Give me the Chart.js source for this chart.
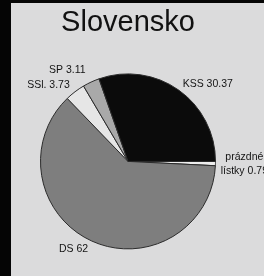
<!DOCTYPE html>
<html>
<head>
<meta charset="utf-8">
<script src="https://cdn.jsdelivr.net/npm/chart.js@4"></script>
<style>
  html, body { margin: 0; padding: 0; background: #050505; width: 264px; height: 276px; overflow: hidden; }
  #sheet { position: absolute; left: 11px; top: 3px; width: 253px; height: 273px; background: #dbdbdc; }
</style>
</head>
<body>
<div id="sheet"><canvas id="pieChart" width="253" height="273"></canvas></div>
<script>
// data (clockwise from 3 o'clock)
const partyNames = ['prázdné\nlístky', 'DS', 'SSl.', 'SP', 'KSS'];
const voteShare = [0.79, 62, 3.73, 3.11, 30.37];

// slice colours
const sliceColors = ['#eeeeee', '#7e7e7e', '#e6e6e6', '#a9a9a9', '#0b0b0b'];
// label placement: distance from centre (x radius) and alignment
const labelDist = [1.33, 1.1, 1.1, 1.15, 1.08];
const labelAlign = ['center', 'right', 'right', 'right', 'left'];

// draws "name value" next to each slice
const sliceLabels = {
    id: 'sliceLabels',
    afterDatasetsDraw(chart) {
        const ctx = chart.ctx;
        const arcs = chart.getDatasetMeta(0).data;
        ctx.save();
        ctx.font = '10.5px "Liberation Sans", Arial, sans-serif';
        ctx.fillStyle = '#141414';
        ctx.textBaseline = 'middle';
        arcs.forEach((arc, i) => {
            const p = arc.getProps(['x', 'y', 'startAngle', 'endAngle', 'outerRadius'], true);
            const mid = (p.startAngle + p.endAngle) / 2;
            const r = p.outerRadius * labelDist[i];
            const x = p.x + Math.cos(mid) * r;
            const y = p.y + Math.sin(mid) * r;
            const lines = (partyNames[i] + ' ' + voteShare[i]).split('\n');
            ctx.textAlign = labelAlign[i];
            lines.forEach((line, j) => {
                ctx.fillText(line, x, y + (j - (lines.length - 1) / 2) * 14);
            });
        });
        ctx.restore();
    }
};

new Chart(document.getElementById('pieChart'), {
    type: 'pie',
    data: {
        labels: partyNames,
        datasets: [{
            data: voteShare,
            backgroundColor: sliceColors,
            borderColor: '#2b2b2b',
            borderWidth: 1
        }]
    },
    options: {
        responsive: false,
        animation: false,
        rotation: 90,
        layout: { padding: { left: 29, right: 48, top: 0, bottom: 26 } },
        plugins: {
            legend: { display: false },
            tooltip: { enabled: false },
            title: {
                display: true,
                text: 'Slovensko',
                color: '#111111',
                font: { family: '"Liberation Sans", Arial, sans-serif', size: 29, weight: 'normal' },
                padding: { top: 3, bottom: 32 }
            }
        }
    },
    plugins: [sliceLabels]
});
</script>
</body>
</html>
